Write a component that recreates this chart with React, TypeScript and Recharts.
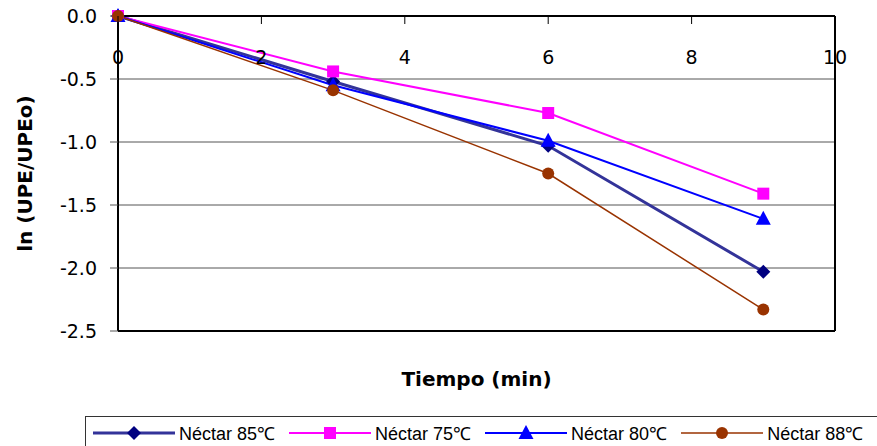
import React from 'react'
import { LineChart, Line, XAxis, YAxis, CartesianGrid, ReferenceLine } from 'recharts'

const tiempo = [0, 3, 6, 9]
const nectar85 = [0, -0.52, -1.03, -2.03]
const nectar75 = [0, -0.44, -0.77, -1.41]
const nectar80 = [0, -0.55, -0.99, -1.61]
const nectar88 = [0, -0.59, -1.25, -2.33]

const xTicks = [0, 2, 4, 6, 8, 10]
const yTicks = [0, -0.5, -1, -1.5, -2, -2.5]

type Marker = 'diamond' | 'square' | 'triangle' | 'circle'

const series: { key: string; name: string; line: string; fill: string; width: number; marker: Marker }[] = [
  { key: 'n85', name: 'Néctar 85℃', line: '#333399', fill: '#000080', width: 3, marker: 'diamond' },
  { key: 'n75', name: 'Néctar 75℃', line: '#FF00FF', fill: '#FF00FF', width: 2, marker: 'square' },
  { key: 'n80', name: 'Néctar 80℃', line: '#0000FF', fill: '#0000FF', width: 2, marker: 'triangle' },
  { key: 'n88', name: 'Néctar 88℃', line: '#993300', fill: '#993300', width: 1.5, marker: 'circle' },
]

const data = tiempo.map((t, i) => ({
  t,
  n85: nectar85[i],
  n75: nectar75[i],
  n80: nectar80[i],
  n88: nectar88[i],
}))

function MarkerShape({ type, cx, cy, fill }: { type: Marker; cx: number; cy: number; fill: string }) {
  if (type === 'diamond') {
    return <polygon points={`${cx},${cy - 7} ${cx + 7},${cy} ${cx},${cy + 7} ${cx - 7},${cy}`} fill={fill} />
  }
  if (type === 'square') {
    return <rect x={cx - 6} y={cy - 6} width={12} height={12} fill={fill} />
  }
  if (type === 'triangle') {
    return <polygon points={`${cx},${cy - 8} ${cx + 7.5},${cy + 6} ${cx - 7.5},${cy + 6}`} fill={fill} />
  }
  return <circle cx={cx} cy={cy} r={6} fill={fill} />
}

const tickFont = { fontFamily: 'DejaVu Sans, sans-serif', fontSize: 19, fill: '#000' }
const titleFont = { fontFamily: 'DejaVu Sans, sans-serif', fontSize: 20, fontWeight: 'bold', fill: '#000' }

// x ticks sit under the top axis line, pointing down into the plot
function TopTick(props: any) {
  const { x, y, payload } = props
  return (
    <g>
      <line x1={x} x2={x} y1={y} y2={y + 8} stroke="#000" />
      <text x={x} y={y + 48} textAnchor="middle" {...tickFont}>
        {payload.value}
      </text>
    </g>
  )
}

export default function App() {
  return (
    <div style={{ position: 'absolute', left: 0, top: 0, width: 877, height: 446, background: '#fff', overflow: 'hidden' }}>
      <LineChart width={877} height={446} data={data} margin={{ top: 15, right: 42, bottom: 114, left: 0 }}>
        <CartesianGrid vertical={false} stroke="#555" strokeWidth={1} />
        <XAxis
          dataKey="t"
          type="number"
          domain={[0, 10]}
          ticks={xTicks}
          orientation="top"
          height={1}
          axisLine={{ stroke: '#000', strokeWidth: 2 }}
          tickLine={false}
          tickSize={0}
          tickMargin={0}
          tick={<TopTick />}
          interval={0}
        />
        <XAxis
          xAxisId="title"
          dataKey="t"
          type="number"
          domain={[0, 10]}
          orientation="bottom"
          height={1}
          axisLine={false}
          tickLine={false}
          tick={false}
          label={{ value: 'Tiempo (min)', position: 'bottom', offset: 40, style: titleFont }}
        />
        <YAxis
          type="number"
          domain={[-2.5, 0]}
          ticks={yTicks}
          width={118}
          axisLine={{ stroke: '#000', strokeWidth: 2 }}
          tickLine={{ stroke: '#555' }}
          tickSize={8}
          tickMargin={13}
          tick={tickFont}
          tickFormatter={(v: number) => v.toFixed(1)}
          interval={0}
          label={{ value: 'ln (UPE/UPEo)', angle: -90, position: 'insideLeft', offset: 25, style: { ...titleFont, textAnchor: 'middle' } }}
        />
        <ReferenceLine x={10} stroke="#000" strokeWidth={2} />
        <ReferenceLine y={-2.5} stroke="#000" strokeWidth={2} />
        {series.map(s => (
          <Line
            key={s.key}
            dataKey={s.key}
            name={s.name}
            type="linear"
            stroke={s.line}
            strokeWidth={s.width}
            isAnimationActive={false}
            dot={(p: any) => <MarkerShape key={`${s.key}-${p.index}`} type={s.marker} cx={p.cx} cy={p.cy} fill={s.fill} />}
            activeDot={false}
          />
        ))}
      </LineChart>
      <div
        style={{
          position: 'absolute',
          left: 85,
          top: 416,
          width: 820,
          height: 34,
          border: '1px solid #333',
          display: 'flex',
          alignItems: 'center',
          fontFamily: 'Liberation Sans, Arial, sans-serif',
          fontSize: 18,
          color: '#000',
          boxSizing: 'border-box',
        }}
      >
        {series.map(s => (
          <div key={s.key} style={{ display: 'flex', alignItems: 'center', marginLeft: 7, marginRight: 7 }}>
            <svg width={82} height={18}>
              <line x1={0} x2={82} y1={9} y2={9} stroke={s.line} strokeWidth={s.width} />
              <MarkerShape type={s.marker} cx={41} cy={9} fill={s.fill} />
            </svg>
            <span style={{ marginLeft: 4, whiteSpace: 'nowrap' }}>{s.name}</span>
          </div>
        ))}
      </div>
    </div>
  )
}
